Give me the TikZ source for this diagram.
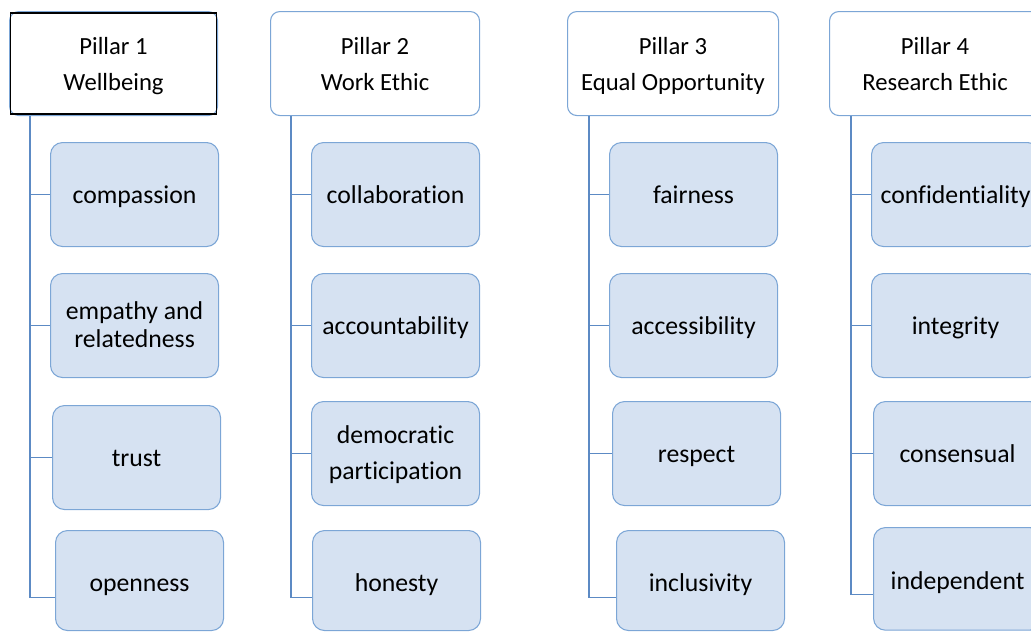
\documentclass[tikz,border=0pt]{standalone}
\usepackage{fontspec}
\setmainfont{Carlito}[Ligatures=NoCommon]
\usepackage{tikz}
\usetikzlibrary{positioning}

\definecolor{boxfill}{RGB}{214,226,242}
\definecolor{boxline}{RGB}{124,166,214}
\definecolor{linkline}{RGB}{92,138,196}

\begin{document}
\begin{tikzpicture}[x=0.75pt, y=-0.75pt,
		struts/.style={execute at begin node={\rule{0pt}{#1}}, execute at end node={\rule[-5pt]{0pt}{5pt}}},
		pillar/.style={struts=46pt, draw=boxline, fill=white, rounded corners=7pt, line width=0.8pt, align=center, anchor=north west, inner sep=0pt, minimum width=156pt, minimum height=78pt, font=\fontsize{18.5}{27}\selectfont},
		value/.style={struts=19pt, draw=boxline, fill=boxfill, rounded corners=9pt, line width=0.8pt, align=center, anchor=north west, inner sep=0pt, minimum width=126pt, minimum height=78pt, font=\fontsize{19.3}{21}\selectfont},
		last/.style={value, struts=21pt, minimum height=75pt},
		link/.style={draw=linkline, line width=0.9pt}
		]
		
		\useasboundingbox (0,0) rectangle (1031,632);
		
		% Pillars
		\node[pillar] (p1) at (9,11) {Pillar 1\\Wellbeing};
		\node[pillar, minimum width=156.75pt] (p2) at (270,11) {Pillar 2\\Work Ethic};
		\node[pillar, minimum width=158.25pt] (p3) at (567,11) {Pillar 3\\Equal Opportunity};
		\node[pillar, minimum width=158.25pt] (p4) at (829,11) {Pillar 4\\Research Ethic};
		\draw[black, line width=0.9pt] ([shift={(1pt,-1.5pt)}]p1.north west) rectangle ([shift={(-1pt,1.5pt)}]p1.south east);
		
		% Values
		\node[value] (v11) at (50,142) {compassion};
		\node[value, struts=38pt] (v12) at (50,273) {empathy and\\relatedness};
		\node[value] (v13) at (52,405) {trust};
		\node[last] (v14) at (55,530) {openness};
		
		\node[value] (v21) at (311,142) {collaboration};
		\node[value] (v22) at (311,273) {accountability};
		\node[value, struts=44pt] (v23) at (311,401) {democratic\\[6pt]participation};
		\node[last] (v24) at (312,530) {honesty};
		
		\node[value] (v31) at (609,142) {fairness};
		\node[value] (v32) at (609,273) {accessibility};
		\node[value] (v33) at (612,401) {respect};
		\node[last] (v34) at (616,530) {inclusivity};
		
		\node[value] (v41) at (871,142) {confidentiality};
		\node[value] (v42) at (871,273) {integrity};
		\node[value] (v43) at (873,401) {consensual};
		\node[last, minimum height=77pt] (v44) at (873,527) {independent};
		
		% Lines
		\coordinate (s1) at ([xshift=15.75pt]p1.south west);
		\coordinate (s2) at ([xshift=15.75pt]p2.south west);
		\coordinate (s3) at ([xshift=16.5pt]p3.south west);
		\coordinate (s4) at ([xshift=16.5pt]p4.south west);
		
		\draw[link] (s1) |- (v11.west);
		\draw[link] (s1) |- (v12.west);
		\draw[link] (s1) |- (v13.west);
		\draw[link] (s1) |- ([yshift=-13pt]v14.west);
		
		\draw[link] (s2) |- (v21.west);
		\draw[link] (s2) |- (v22.west);
		\draw[link] (s2) |- (v23.west);
		\draw[link] (s2) |- ([yshift=-13pt]v24.west);
		
		\draw[link] (s3) |- (v31.west);
		\draw[link] (s3) |- (v32.west);
		\draw[link] (s3) |- (v33.west);
		\draw[link] (s3) |- ([yshift=-13pt]v34.west);
		
		\draw[link] (s4) |- (v41.west);
		\draw[link] (s4) |- (v42.west);
		\draw[link] (s4) |- (v43.west);
		\draw[link] (s4) |- ([yshift=-12pt]v44.west);
		
	\end{tikzpicture}
\end{document}
